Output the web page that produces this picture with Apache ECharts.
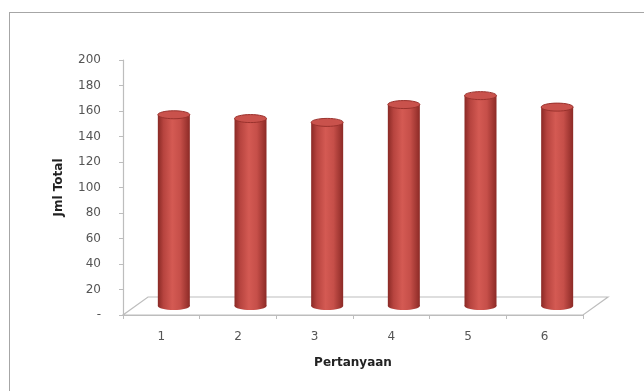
<!DOCTYPE html>
<html>
<head>
<meta charset="utf-8">
<script src="https://cdn.jsdelivr.net/npm/echarts@6/dist/echarts.min.js"></script>
<style>
  html, body { margin: 0; padding: 0; background: #fff; }
  #frame { position: absolute; left: 9px; top: 12px; right: -2px; bottom: -2px; border-left: 1px solid #a6a6a6; border-top: 1px solid #a6a6a6; }
  #chart { position: absolute; left: 0; top: 0; width: 644px; height: 391px; }
</style>
</head>
<body>
<div id="frame"></div>
<div id="chart"></div>
<script>
// Question numbers and their totals
const categories = ['1', '2', '3', '4', '5', '6'];
const totals = [150, 147, 144, 158, 165, 156];
const yTicks = [0, 20, 40, 60, 80, 100, 120, 140, 160, 180, 200];

// Oblique depth of the floor (px): back edge sits up and to the right
const DEPTH_X = 25, DEPTH_Y = -18;
const BAR_W = 32, CAP_RY = 4;
const FONT = '"DejaVu Sans", sans-serif';

const chart = echarts.init(document.getElementById('chart'), null, { renderer: 'canvas' });

const bodyGradient = new echarts.graphic.LinearGradient(0, 0, 1, 0, [
  { offset: 0, color: '#8a2925' },
  { offset: 0.18, color: '#b7443f' },
  { offset: 0.45, color: '#d45a53' },
  { offset: 0.7, color: '#c64f49' },
  { offset: 1, color: '#8c2a26' }
]);

function renderFloor(params, api) {
  const band = api.size([1, 0])[0];
  const left = api.coord([0, 0]);
  const right = api.coord([categories.length - 1, 0]);
  const x0 = left[0] - band / 2, x1 = right[0] + band / 2, y0 = left[1];
  return {
    type: 'polygon',
    shape: { points: [[x0, y0], [x1, y0], [x1 + DEPTH_X, y0 + DEPTH_Y], [x0 + DEPTH_X, y0 + DEPTH_Y]] },
    style: { fill: '#ffffff', stroke: '#bdbdbd', lineWidth: 1.2 }
  };
}

function renderCylinder(params, api) {
  const idx = api.value(0);
  const top = api.coord([idx, api.value(1)]);
  const base = api.coord([idx, 0]);
  const cx = top[0] + DEPTH_X / 2;
  const yTop = top[1] + DEPTH_Y / 2;
  const yBase = base[1] + DEPTH_Y / 2;
  const rx = BAR_W / 2;
  return {
    type: 'group',
    children: [
      { type: 'ellipse', shape: { cx: cx, cy: yBase, rx: rx, ry: CAP_RY }, style: { fill: bodyGradient } },
      { type: 'rect', shape: { x: cx - rx, y: yTop, width: BAR_W, height: yBase - yTop }, style: { fill: bodyGradient } },
      { type: 'ellipse', shape: { cx: cx, cy: yTop, rx: rx, ry: CAP_RY },
        style: { fill: '#c9524c', stroke: '#9a322d', lineWidth: 1 } }
    ]
  };
}

chart.setOption({
  animation: false,
  backgroundColor: 'transparent',
  grid: { left: 123, right: 61, top: 60, bottom: 76 },
  xAxis: {
    type: 'category',
    data: categories,
    name: 'Pertanyaan',
    nameLocation: 'middle',
    nameGap: 42,
    nameTextStyle: { fontFamily: FONT, fontWeight: 'bold', fontSize: 12, color: '#222' },
    axisLine: { show: true, lineStyle: { color: '#bdbdbd', width: 1.2 } },
    axisTick: { show: true, length: 4, lineStyle: { color: '#bdbdbd' } },
    axisLabel: { margin: 16, fontFamily: FONT, fontSize: 12, color: '#555' },
    splitLine: { show: false }
  },
  yAxis: {
    type: 'value',
    min: 0,
    max: 200,
    interval: 20,
    name: 'Jml Total',
    nameLocation: 'middle',
    nameGap: 58,
    nameRotate: 90,
    nameTextStyle: { fontFamily: FONT, fontWeight: 'bold', fontSize: 12, color: '#222' },
    axisLine: { show: true, lineStyle: { color: '#bdbdbd', width: 1.2 } },
    axisTick: { show: true, length: 4, lineStyle: { color: '#bdbdbd' } },
    axisLabel: {
      margin: 22,
      fontFamily: FONT,
      fontSize: 12,
      color: '#555',
      formatter: function (v) { return yTicks.indexOf(v) === 0 ? '-' : String(v); }
    },
    splitLine: { show: false }
  },
  series: [
    {
      type: 'custom',
      renderItem: renderFloor,
      data: [[0, 0]],
      z: 1,
      silent: true
    },
    {
      type: 'custom',
      renderItem: renderCylinder,
      encode: { x: 0, y: 1 },
      data: totals.map(function (v, i) { return [i, v]; }),
      z: 2
    }
  ]
});
</script>
</body>
</html>
